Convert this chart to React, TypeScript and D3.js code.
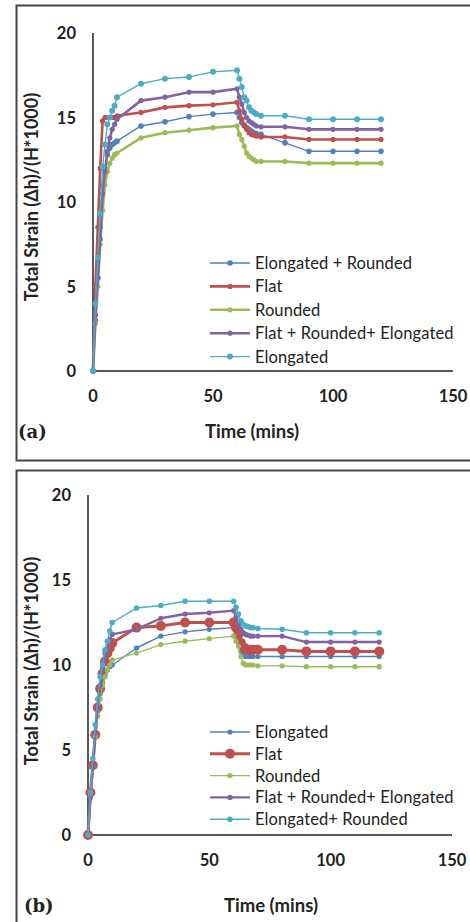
import React from "react";
import * as d3 from "d3";

const TIMES = [0, 1, 2, 3, 4, 5, 6, 7, 8, 9, 10, 20, 30, 40, 50, 60, 61, 62, 63, 64, 65, 66, 67, 68, 70, 80, 90, 100, 110, 120];

// Panel (a)
const A_NAMES = ["Elongated + Rounded", "Flat", "Rounded", "Flat + Rounded+ Elongated", "Elongated"];
const A_ELONG_ROUND = [0, 3.0, 5.5, 8.5, 11.0, 12.0, 12.8, 13.2, 13.4, 13.5, 13.6, 14.5, 14.75, 15.05, 15.2, 15.3, 15.0, 14.7, 14.55, 14.4, 14.3, 14.2, 14.1, 14.05, 14.0, 13.5, 13.0, 13.0, 13.0, 13.0];
const A_FLAT = [0, 5.0, 8.5, 12.0, 14.8, 15.0, 15.0, 15.0, 15.0, 15.0, 15.1, 15.3, 15.6, 15.7, 15.75, 15.9, 15.4, 14.9, 14.5, 14.3, 14.1, 14.0, 13.95, 13.9, 13.85, 13.85, 13.7, 13.7, 13.7, 13.7];
const A_ROUNDED = [0, 2.8, 5.0, 7.5, 9.5, 11.0, 11.8, 12.3, 12.6, 12.8, 12.9, 13.8, 14.1, 14.25, 14.4, 14.5, 14.0, 13.7, 13.3, 12.9, 12.7, 12.6, 12.5, 12.4, 12.4, 12.4, 12.3, 12.3, 12.3, 12.3];
const A_MIX = [0, 3.3, 5.5, 7.8, 10.5, 11.8, 13.0, 13.8, 14.3, 14.6, 14.9, 16.0, 16.2, 16.5, 16.5, 16.7, 16.2, 15.8, 15.3, 15.0, 14.8, 14.7, 14.6, 14.5, 14.45, 14.45, 14.3, 14.3, 14.3, 14.3];
const A_ELONG = [0, 4.0, 6.7, 9.3, 12.1, 13.4, 14.6, 15.0, 15.4, 15.7, 16.2, 17.0, 17.3, 17.4, 17.7, 17.8, 17.3, 16.8, 16.2, 16.0, 15.6, 15.4, 15.3, 15.2, 15.1, 15.1, 14.9, 14.9, 14.9, 14.9];

// Panel (b)
const B_NAMES = ["Elongated", "Flat", "Rounded", "Flat + Rounded+ Elongated", "Elongated+ Rounded"];
const B_ELONG = [0, 2.3, 4.2, 6.0, 7.3, 8.3, 9.0, 9.4, 9.7, 9.9, 10.0, 11.0, 11.7, 11.95, 12.1, 12.2, 11.8, 11.4, 10.8, 10.6, 10.5, 10.5, 10.5, 10.5, 10.5, 10.5, 10.5, 10.5, 10.5, 10.5];
const B_FLAT = [0, 2.5, 4.1, 5.9, 7.5, 8.6, 9.5, 10.2, 10.7, 11.0, 11.3, 12.2, 12.3, 12.5, 12.5, 12.5, 12.2, 11.8, 11.3, 11.05, 10.95, 10.9, 10.9, 10.9, 10.9, 10.9, 10.8, 10.8, 10.8, 10.8];
const B_ROUNDED = [0, 2.3, 4.0, 5.8, 7.0, 8.0, 8.8, 9.3, 9.7, 10.0, 10.3, 10.7, 11.2, 11.4, 11.55, 11.7, 11.4, 11.1, 10.5, 10.1, 10.0, 10.0, 10.0, 10.0, 9.95, 9.95, 9.9, 9.9, 9.9, 9.9];
const B_MIX = [0, 2.2, 4.0, 6.0, 7.5, 8.8, 9.8, 10.4, 10.9, 11.5, 11.8, 12.1, 12.75, 13.0, 13.07, 13.2, 12.8, 12.4, 12.1, 11.9, 11.8, 11.75, 11.7, 11.7, 11.7, 11.7, 11.35, 11.35, 11.35, 11.35];
const B_ELONG_ROUND = [0, 2.5, 4.5, 6.5, 8.0, 9.3, 10.0, 10.9, 11.4, 12.0, 12.5, 13.35, 13.5, 13.75, 13.75, 13.75, 13.4, 13.0, 12.6, 12.4, 12.3, 12.25, 12.2, 12.2, 12.15, 12.1, 11.9, 11.9, 11.9, 11.9];

const X_TICKS = [0, 50, 100, 150];
const Y_TICKS = [0, 5, 10, 15, 20];
const COLORS = ["#4F81BD", "#C0504D", "#9BBB59", "#8064A2", "#4BACC6"];

type Style = { lw: number; r: number };

const A_STYLES: Style[] = [
  { lw: 1.4, r: 2.8 },
  { lw: 2.6, r: 2.6 },
  { lw: 2.6, r: 2.6 },
  { lw: 2.6, r: 2.6 },
  { lw: 1.4, r: 3.0 },
];
const B_STYLES: Style[] = [
  { lw: 1.4, r: 2.6 },
  { lw: 3.0, r: 5.0 },
  { lw: 1.4, r: 2.6 },
  { lw: 2.4, r: 2.6 },
  { lw: 1.4, r: 2.8 },
];

const FONT = "Lato, 'Open Sans', sans-serif";

function Panel(props: {
  names: string[];
  series: number[][];
  styles: Style[];
  x0: number; x1: number; y0: number; y1: number;
  label: string;
  labelX: number; labelY: number;
  titleX: number; titleY: number;
  ytitleY: number;
  legendX: number; legendY: number; legendStep: number;
}) {
  const { names, series, styles, x0, x1, y0, y1 } = props;
  const x = d3.scaleLinear().domain([0, 150]).range([x0, x1]);
  const y = d3.scaleLinear().domain([0, 20]).range([y0, y1]);
  const line = d3.line<number>().x((_, i) => x(TIMES[i])).y((v) => y(v));
  return (
    <g>
      <line x1={x0} x2={x0} y1={y(0)} y2={y(20)} stroke="#222" strokeWidth={1.5} />
      <line x1={x0} x2={x1} y1={y(0)} y2={y(0)} stroke="#222" strokeWidth={1.5} />
      {Y_TICKS.map((t) => (
        <text key={"y" + t} x={x0 - 17} y={y(t) + 6} textAnchor="end" fontFamily={FONT} fontWeight={700} fontSize={16.5} fill="#222">{t}</text>
      ))}
      {X_TICKS.map((t) => (
        <text key={"x" + t} x={x(t)} y={y(0) + 31} textAnchor="middle" fontFamily={FONT} fontWeight={700} fontSize={16.5} fill="#222">{t}</text>
      ))}
      {series.map((s, k) => (
        <g key={k}>
          <path d={line(s) || ""} fill="none" stroke={COLORS[k]} strokeWidth={styles[k].lw} strokeLinejoin="round" />
          {s.map((v, i) => (
            <circle key={i} cx={x(TIMES[i])} cy={y(v)} r={styles[k].r} fill={COLORS[k]} />
          ))}
        </g>
      ))}
      {names.map((n, k) => {
        const ly = props.legendY + k * props.legendStep;
        return (
          <g key={"l" + k}>
            <line x1={props.legendX} x2={props.legendX + 40} y1={ly} y2={ly} stroke={COLORS[k]} strokeWidth={styles[k].lw} />
            <circle cx={props.legendX + 20} cy={ly} r={styles[k].r} fill={COLORS[k]} />
            <text x={props.legendX + 45} y={ly + 6} fontFamily={FONT} fontSize={16.5} fill="#222" letterSpacing={0.1}>{n}</text>
          </g>
        );
      })}
      <text transform={`translate(38,${props.ytitleY}) rotate(-90)`} textAnchor="middle" fontFamily={FONT} fontWeight={700} fontSize={18} fill="#222">Total Strain (Δh)/(H*1000)</text>
      <text x={props.titleX} y={props.titleY} textAnchor="middle" fontFamily={FONT} fontWeight={700} fontSize={18.5} fill="#222">Time (mins)</text>
      <text x={props.labelX} y={props.labelY} fontFamily="'DejaVu Serif', 'Liberation Serif', serif" fontWeight={700} fontSize={18} fill="#222">{props.label}</text>
    </g>
  );
}

export default function App() {
  return (
    <svg width={470} height={922} style={{ position: "absolute", left: 0, top: 0, background: "#fff" }}>
      <rect x={0} y={0} width={470} height={922} fill="#fff" />
      <rect x={16.5} y={5.5} width={470} height={455} fill="none" stroke="#444" strokeWidth={2} />
      <rect x={16.5} y={470.5} width={470} height={470} fill="none" stroke="#444" strokeWidth={2} />
      <Panel
        names={A_NAMES}
        series={[A_ELONG_ROUND, A_FLAT, A_ROUNDED, A_MIX, A_ELONG]}
        styles={A_STYLES}
        x0={93} x1={453} y0={371} y1={33}
        label="(a)" labelX={18} labelY={438}
        titleX={252} titleY={438}
        ytitleY={197}
        legendX={210} legendY={263} legendStep={23.4}
      />
      <Panel
        names={B_NAMES}
        series={[B_ELONG, B_FLAT, B_ROUNDED, B_MIX, B_ELONG_ROUND]}
        styles={B_STYLES}
        x0={88} x1={452} y0={835} y1={495}
        label="(b)" labelX={24} labelY={912}
        titleX={271} titleY={912}
        ytitleY={661}
        legendX={210} legendY={732} legendStep={21.8}
      />
    </svg>
  );
}
